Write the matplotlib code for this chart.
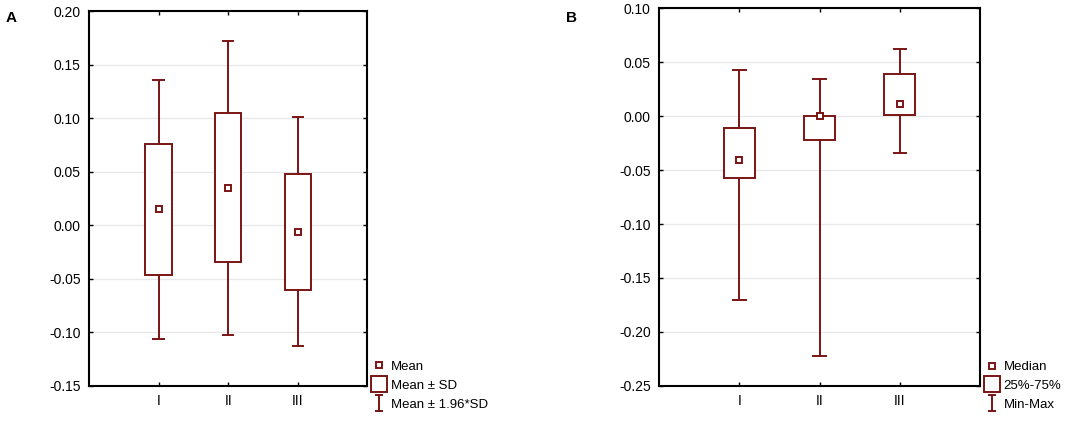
import numpy as np
import matplotlib.pyplot as plt
from matplotlib.lines import Line2D
from matplotlib.path import Path

plt.rcParams['font.family'] = ['Liberation Sans', 'DejaVu Sans']
plt.rcParams['font.size'] = 10

# data
groups = ['I', 'II', 'III']

# panel A: mean, mean +/- SD, mean +/- 1.96*SD
a_mean = [0.015, 0.035, -0.006]
a_sd_lo = [-0.046, -0.034, -0.060]
a_sd_hi = [0.076, 0.105, 0.048]
a_ci_lo = [-0.106, -0.102, -0.113]
a_ci_hi = [0.136, 0.172, 0.101]

# panel B: median, quartiles, min/max
b_med = [-0.041, 0.000, 0.011]
b_q1 = [-0.057, -0.022, 0.001]
b_q3 = [-0.011, 0.000, 0.039]
b_min = [-0.170, -0.222, -0.034]
b_max = [0.043, 0.034, 0.062]

red = '#7a1414'
ibeam = Path([(-0.5, -1), (0.5, -1), (0, -1), (0, 1), (-0.5, 1), (0.5, 1)],
             [Path.MOVETO, Path.LINETO, Path.MOVETO, Path.LINETO, Path.MOVETO, Path.LINETO])


def draw_panel(ax, mid, lo, hi, wlo, whi, ylim, labels):
    x = np.arange(1, len(groups) + 1)
    ax.vlines(x, wlo, whi, color=red, lw=1.4, zorder=2)
    ax.hlines(wlo, x - 0.09, x + 0.09, color=red, lw=1.4, zorder=2)
    ax.hlines(whi, x - 0.09, x + 0.09, color=red, lw=1.4, zorder=2)
    ax.bar(x, np.array(hi) - np.array(lo), bottom=lo, width=0.38,
           facecolor='white', edgecolor=red, lw=1.4, zorder=3)
    ax.plot(x, mid, 's', ms=5, mfc='white', mec=red, mew=1.4, zorder=4, ls='none')

    ax.set_xlim(0, 4)
    ax.set_ylim(*ylim)
    ax.set_yticks(np.round(np.arange(ylim[0], ylim[1] + 0.001, 0.05), 2) + 0.0)
    ax.yaxis.set_major_formatter(plt.FuncFormatter(lambda v, p: f'{v + 0.0:.2f}'.replace('-0.00', '0.00')))
    ax.set_xticks(x)
    ax.set_xticklabels(groups)
    ax.tick_params(direction='in', length=3, width=1, top=True, right=True, pad=6)
    ax.grid(axis='y', color='#e8e8e8', lw=1)
    ax.set_axisbelow(True)
    for s in ax.spines.values():
        s.set_linewidth(1.5)

    handles = [
        Line2D([], [], marker='s', ms=5, mfc='white', mec=red, mew=1.4, ls='none'),
        Line2D([], [], marker='s', ms=11, mfc='white', mec=red, mew=1.4, ls='none'),
        Line2D([], [], marker=ibeam, ms=11, mec=red, mew=1.4, ls='none'),
    ]
    ax.legend(handles, labels, loc='lower left', bbox_to_anchor=(1.0, -0.08),
              frameon=False, handlelength=1.0, handletextpad=0.4,
              labelspacing=0.5, borderaxespad=0, fontsize=9.5)


fig = plt.figure(figsize=(10.84, 4.26), dpi=100)
ax_a = fig.add_axes([0.082, 0.094, 0.257, 0.880])
ax_b = fig.add_axes([0.608, 0.094, 0.296, 0.887])

draw_panel(ax_a, a_mean, a_sd_lo, a_sd_hi, a_ci_lo, a_ci_hi, (-0.15, 0.20),
           ['Mean', 'Mean ± SD', 'Mean ± 1.96*SD'])
draw_panel(ax_b, b_med, b_q1, b_q3, b_min, b_max, (-0.25, 0.10),
           ['Median', '25%-75%', 'Min-Max'])

fig.text(0.005, 0.975, 'A', fontsize=11, fontweight='bold', va='top')
fig.text(0.522, 0.975, 'B', fontsize=11, fontweight='bold', va='top')

fig.savefig('out.png', dpi=100)
